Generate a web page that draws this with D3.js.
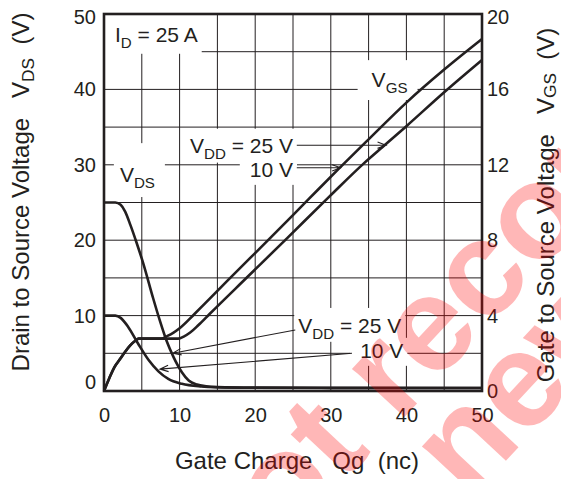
<!DOCTYPE html>
<html>
<head>
<meta charset="utf-8">
<script src="https://cdn.jsdelivr.net/npm/d3@7"></script>
<style>
    body { margin: 0; background: #fff; }
    svg { display: block; font-family: Arial, "Liberation Sans", sans-serif; }
</style>
</head>
<body>
<div id="chart"></div>
<script>
// Gate charge curves
const qTicks = [0, 10, 20, 30, 40, 50];
const vdsTicks = [0, 10, 20, 30, 40, 50];
const vgsTicks = [0, 4, 8, 12, 16, 20];

// [Qg (nC), VDS (V)]
const vds25 = [[0, 25], [1.5, 25], [2.2, 24.7], [2.8, 23.8], [3.5, 22.0], [4.3, 19.7], [5.2, 16.9],
    [6.5, 12.3], [7.4, 9.3], [8.3, 6.6], [9.2, 4.5], [10.3, 2.5], [11.2, 1.4], [12.3, 0.85],
    [13.5, 0.62], [15, 0.52], [20, 0.45], [30, 0.42], [50, 0.4]];
const vds10 = [[0, 10], [1.5, 10], [2.2, 9.7], [3.2, 8.5], [4.5, 6.3], [5.9, 4.1], [7.2, 2.6],
    [8.5, 1.6], [10.3, 0.95], [12.9, 0.6], [15, 0.5], [20, 0.43], [30, 0.4], [50, 0.4]];

// [Qg (nC), VGS (V)]
const vgsRise = [[0, 0], [0.7, 0.68], [1.4, 1.28], [2.1, 1.68], [2.8, 2.08], [3.5, 2.43], [4.1, 2.65], [4.6, 2.78]];
const vgs10 = vgsRise.concat([[7.6, 2.78], [8.4, 2.92], [9.2, 3.1], [10, 3.33], [12, 4.1], [16.7, 6.0],
    [22.2, 8.2], [27, 10.15], [31.2, 11.85], [35, 13.35], [40, 15.3], [45, 17.05], [50, 18.67]]);
const vgs25 = vgsRise.concat([[9.8, 2.78], [10.6, 2.9], [11.4, 3.1], [12.5, 3.5], [14, 4.1], [19.1, 6.1],
    [24.2, 8.1], [29.9, 10.35], [34.3, 12.05], [37.3, 13.1], [40, 14.05], [45, 15.85], [50, 17.56]]);

const watermark = ['Not\u00a0', 'recommended', 'for\u00a0', 'new designs'];

const W = 561, H = 479;
const margin = { top: 14, right: 79, bottom: 88, left: 104 };
const width = W - margin.left - margin.right;
const height = H - margin.top - margin.bottom;
const ink = '#231f20';
const labelSize = 21;

const svg = d3.select('#chart')
    .append('svg')
    .attr('width', W)
    .attr('height', H);

const g = svg.append('g')
    .attr('transform', `translate(${margin.left},${margin.top})`);

const x = d3.scaleLinear().domain([0, 50]).range([0, width]);
const yL = d3.scaleLinear().domain([0, 50]).range([height, 0]);
const yR = d3.scaleLinear().domain([0, 20]).range([height, 0]);

// grid every 5 nC / 5 V
const gridLayer = g.append('g');
gridLayer.selectAll('.vg')
    .data(d3.range(5, 50, 5))
    .enter().append('line')
    .attr('x1', d => x(d)).attr('x2', d => x(d))
    .attr('y1', 0).attr('y2', height)
    .attr('stroke', ink).attr('stroke-width', 1);
gridLayer.selectAll('.hg')
    .data(d3.range(5, 50, 5))
    .enter().append('line')
    .attr('x1', 0).attr('x2', width)
    .attr('y1', d => yL(d)).attr('y2', d => yL(d))
    .attr('stroke', ink).attr('stroke-width', 1);

const bgLayer = g.append('g');
const curveLayer = g.append('g');
const textLayer = g.append('g');

const lineL = d3.line().x(d => x(d[0])).y(d => yL(d[1])).curve(d3.curveMonotoneX);
const lineR = d3.line().x(d => x(d[0])).y(d => yR(d[1])).curve(d3.curveMonotoneX);

[[vds25, lineL], [vds10, lineL], [vgs10, lineR], [vgs25, lineR]].forEach(([data, gen]) => {
    curveLayer.append('path')
        .datum(data)
        .attr('fill', 'none')
        .attr('stroke', ink)
        .attr('stroke-width', 2.6)
        .attr('stroke-linejoin', 'round')
        .attr('d', gen);
});

// frame
g.append('rect')
    .attr('width', width)
    .attr('height', height)
    .attr('fill', 'none')
    .attr('stroke', ink)
    .attr('stroke-width', 2.6);

// text with optional subscripts: parts = [[text, isSub], ...]
function addText(sel, parts, size, shift = 0.28) {
    let wasSub = false;
    parts.forEach(([s, sub]) => {
        const t = sel.append('tspan').text(s);
        if (sub) t.attr('font-size', size * 0.72).attr('dy', size * shift);
        else if (wasSub) t.attr('dy', -size * shift);
        wasSub = !!sub;
    });
}

function addLabel(parts, q, v, anchor, pad) {
    const t = textLayer.append('text')
        .attr('x', x(q))
        .attr('y', yL(v))
        .attr('text-anchor', anchor)
        .attr('font-size', labelSize)
        .attr('fill', ink);
    addText(t, parts, labelSize);
    const b = t.node().getBBox();
    bgLayer.append('rect')
        .attr('x', b.x - pad[0]).attr('y', b.y - pad[1])
        .attr('width', b.width + pad[0] + pad[2])
        .attr('height', b.height + pad[1] + pad[3])
        .attr('fill', '#fff');
}

addLabel([['I'], ['D', true], [' = 25 A']], 1.45, 46.3, 'start', [12, 14, 4, 3]);
addLabel([['V'], ['DS', true]], 2.1, 27.7, 'start', [6, 20, 10, 6]);
addLabel([['V'], ['GS', true]], 35.4, 40.3, 'start', [14, 8, 10, 4]);
addLabel([['V'], ['DD', true], [' = 25 V']], 25, 31.6, 'end', [8, 5, 4, 1]);
addLabel([['10 V']], 25, 28.4, 'end', [10, 1, 4, 4]);
addLabel([['V'], ['DD', true], [' = 25 V']], 25.7, 7.7, 'start', [4, 6, 4, 0]);
addLabel([['10 V']], 39.6, 4.4, 'end', [10, 1, 4, 4]);

// leader lines with open arrowheads
function arrow(q0, v0, q1, v1) {
    const x0 = x(q0), y0 = yL(v0), x1 = x(q1), y1 = yL(v1);
    const a = Math.atan2(y1 - y0, x1 - x0);
    const len = 9, spread = 0.36;
    const p = d3.path();
    p.moveTo(x0, y0);
    p.lineTo(x1, y1);
    p.moveTo(x1 - len * Math.cos(a - spread), y1 - len * Math.sin(a - spread));
    p.lineTo(x1, y1);
    p.lineTo(x1 - len * Math.cos(a + spread), y1 - len * Math.sin(a + spread));
    textLayer.append('path')
        .attr('d', p.toString())
        .attr('fill', 'none')
        .attr('stroke', ink)
        .attr('stroke-width', 1.1);
}

arrow(25.5, 32.6, 37.3, 32.6);
arrow(25.5, 29.6, 31.3, 29.6);
arrow(25.3, 8.1, 9.1, 5.0);
arrow(32.8, 5.0, 7.4, 2.9);

// axes (labels only, frame drawn above)
const axL = g.append('g')
    .call(d3.axisLeft(yL).tickValues(vdsTicks).tickSize(0).tickPadding(8));
axL.selectAll('text').filter(d => d === 0).attr('y', -9);
axL.selectAll('text').filter(d => d === 50).attr('y', 3);

const axR = g.append('g')
    .attr('transform', `translate(${width},0)`)
    .call(d3.axisRight(yR).tickValues(vgsTicks).tickSize(0).tickPadding(5));
axR.selectAll('text').filter(d => d === 20).attr('y', 3);

const axB = g.append('g')
    .attr('transform', `translate(0,${height})`)
    .call(d3.axisBottom(x).tickValues(qTicks).tickSize(0).tickPadding(17));

[axL, axR, axB].forEach(ax => {
    ax.select('.domain').remove();
    ax.selectAll('text')
        .attr('font-size', 20)
        .attr('font-family', 'Arial, "Liberation Sans", sans-serif')
        .attr('fill', ink);
});

// axis titles
const tx = svg.append('text')
    .attr('x', margin.left + width / 2 + 4)
    .attr('y', 469)
    .attr('text-anchor', 'middle')
    .attr('font-size', 24)
    .attr('fill', ink)
    .attr('xml:space', 'preserve');
addText(tx, [['Gate Charge   Qg  (nc)']], 24);

const tl = svg.append('text')
    .attr('transform', 'translate(29,192) rotate(-90)')
    .attr('text-anchor', 'middle')
    .attr('font-size', 24)
    .attr('fill', ink)
    .attr('xml:space', 'preserve');
addText(tl, [['Drain to Source Voltage   V'], ['DS', true], ['  (V)']], 24, 0.22);

const tr = svg.append('text')
    .attr('transform', 'translate(554,205) rotate(-90)')
    .attr('text-anchor', 'middle')
    .attr('font-size', 24)
    .attr('fill', ink)
    .attr('xml:space', 'preserve');
addText(tr, [['Gate to Source Voltage   V'], ['GS', true], ['  (V)']], 24, 0.1);

// faint red stamp across the lower right
const wm = svg.append('g')
    .attr('transform', 'translate(398,424) rotate(-47)')
    .attr('fill', '#ff0000')
    .attr('opacity', 0.28)
    .attr('font-size', 135)
    .attr('font-weight', 'bold');
wm.append('text').attr('text-anchor', 'end').text(watermark[0]);
wm.append('text').attr('text-anchor', 'start').text(watermark[1]);
wm.append('text').attr('text-anchor', 'end').attr('x', -9).attr('y', 104).text(watermark[2]);
wm.append('text').attr('text-anchor', 'start').attr('x', -9).attr('y', 104).text(watermark[3]);
</script>
</body>
</html>
